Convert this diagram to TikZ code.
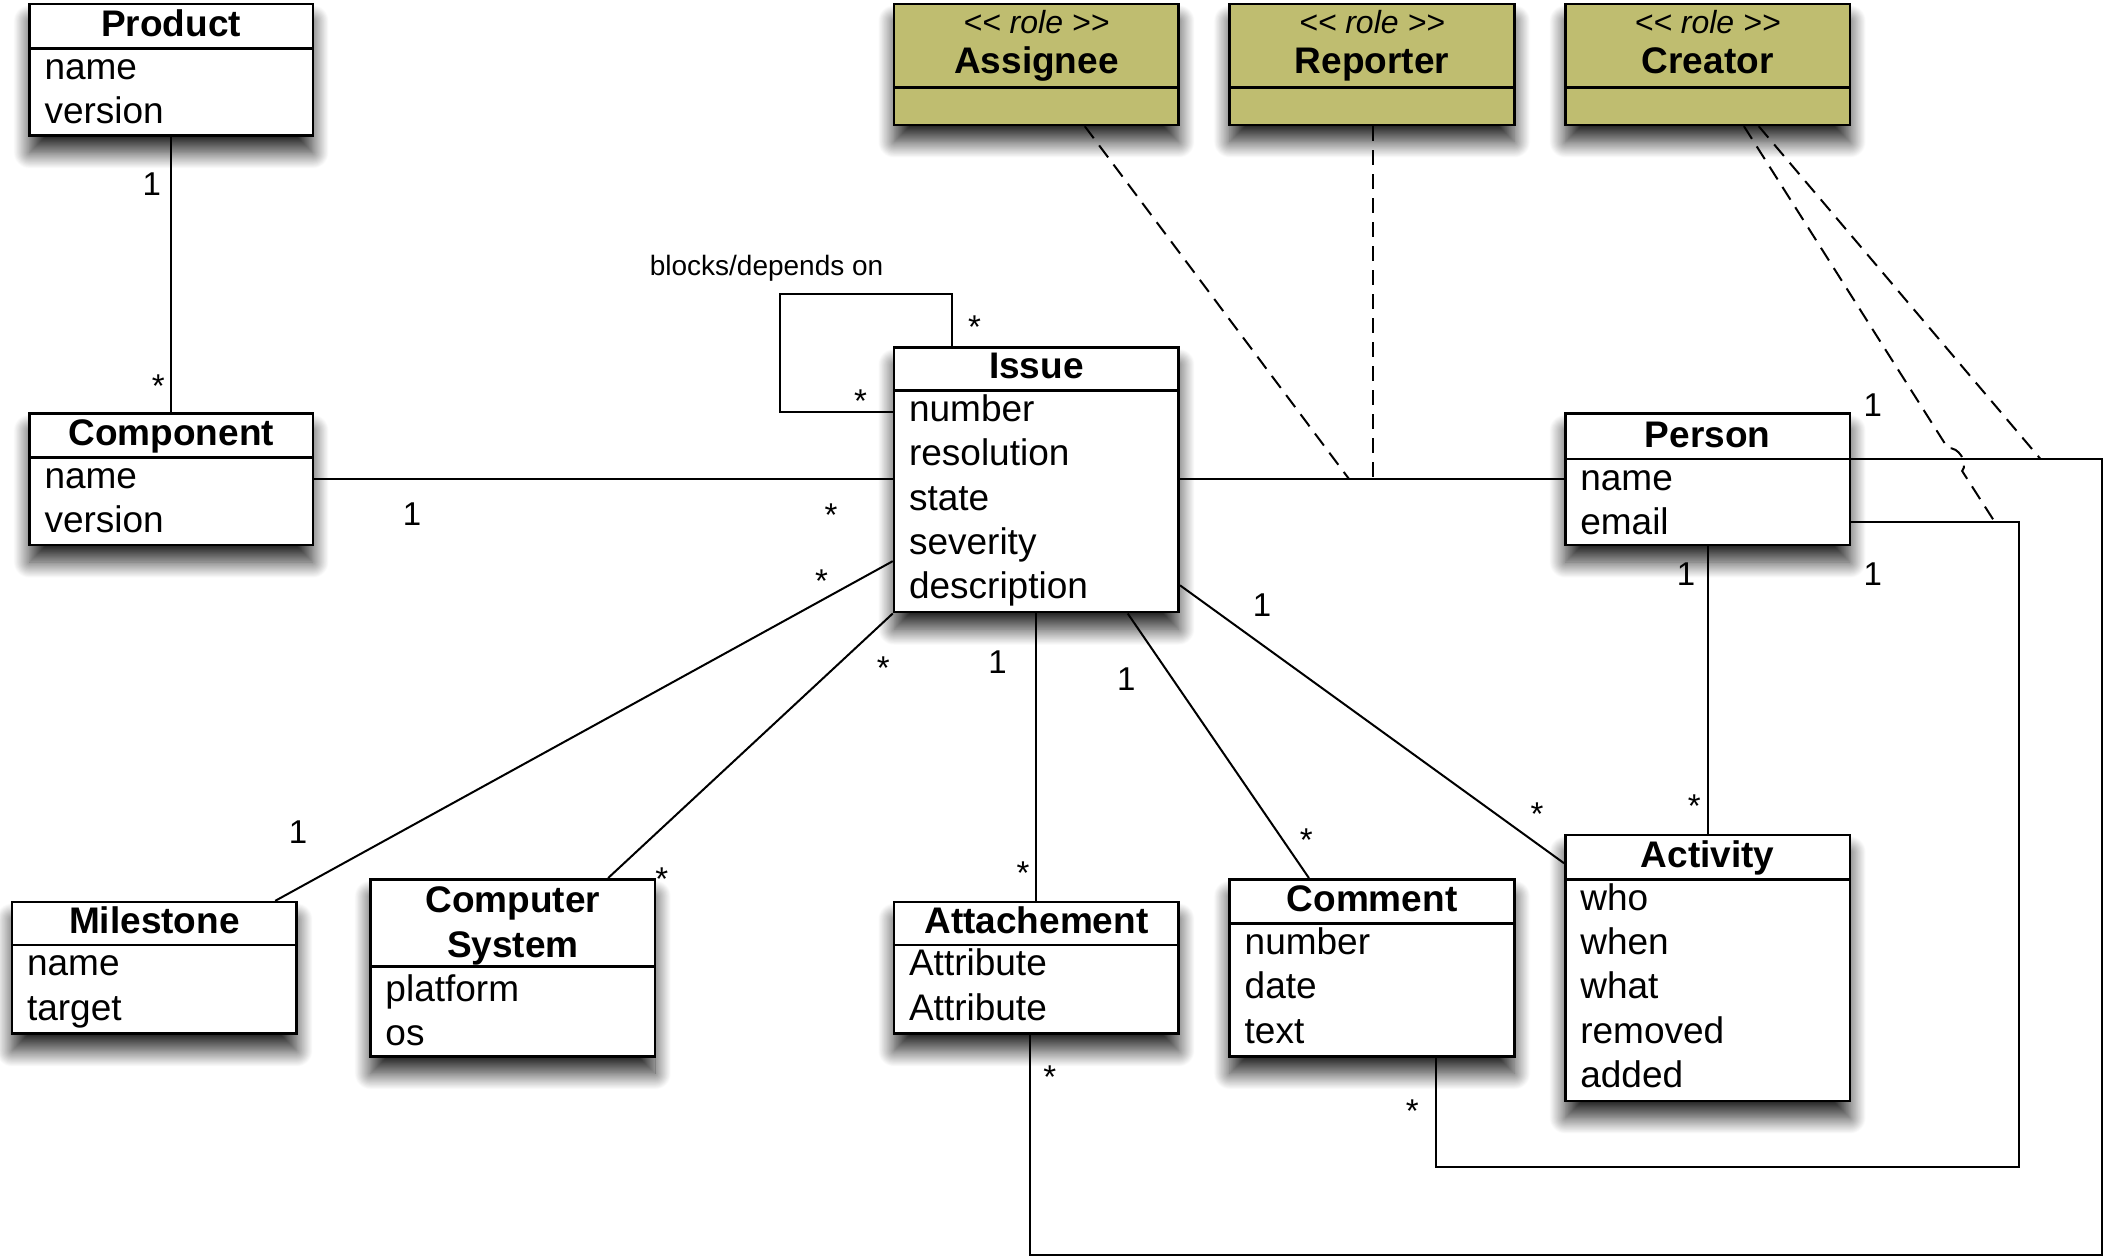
\documentclass[tikz,border=0pt]{standalone}
\usepackage{fontspec}
\setmainfont{Liberation Sans}
\usetikzlibrary{fit,shadows.blur}
\definecolor{rolefill}{RGB}{191,189,112}

% class box: id, left, top, right, bottom, divider y, title
\newcommand\umlclass[7]{%
  \node[classbox, fit={(#2,#3) (#4,#5)}] (#1) {};
  \draw[divider] (#1.west |- 0,#6) -- (#1.east |- 0,#6);
  \node[ctitle] (#1-title) at ({(#2+#4)/2},{#6-9}) {#7};
}
% role box: id, left, right, name
\newcommand\umlrole[4]{%
  \node[rolebox, fit={(#2,3) (#3,93)}] (#1) {};
  \draw[divider] (#1.west |- 0,65) -- (#1.east |- 0,65);
  \node[stereo] (#1-stereo) at ({(#2+#3)/2},25) {{<}{<} role {>}{>}};
  \node[ctitle] (#1-title) at ({(#2+#3)/2},55) {#4};
}
% attribute list: id, x, first baseline, items
\newcommand\umlattrs[4]{%
  \foreach \a [count=\i from 0] in {#4}
    \node[cattr] (#1-a\i) at (#2,{#3+33*\i}) {\a};
}

\begin{document}
\begin{tikzpicture}[x=1.3425pt,y=-1.3425pt,
  classbox/.style={draw=black, line width=2.6pt, inner sep=0pt, fill=white,
    blur shadow={shadow xshift=0pt, shadow yshift=-17pt, shadow blur radius=16pt,
      shadow opacity=85, shadow blur steps=24}},
  rolebox/.style={classbox, fill=rolefill},
  divider/.style={line width=2.6pt},
  ctitle/.style={font=\fontsize{37}{44}\selectfont\bfseries, anchor=base, inner sep=0pt},
  cattr/.style={font=\fontsize{37}{44}\selectfont, anchor=base west, inner sep=0pt},
  stereo/.style={font=\fontsize{32}{36}\selectfont\itshape, anchor=base, inner sep=0pt},
  assoc/.style={line width=2pt},
  rolelink/.style={line width=2pt, dash pattern=on 15pt off 9pt},
  one/.style={font=\fontsize{33}{40}\selectfont, inner sep=0pt},
  many/.style={font=\fontsize{33}{40}\selectfont, inner sep=0pt, anchor=base, yshift=-19pt},
  note/.style={font=\fontsize{28}{34}\selectfont, inner sep=0pt},
]
\useasboundingbox (0,0) rectangle (1568,937);

% ---- classes ----
\umlclass{product}{22}{3}{233}{101}{36}{Product}
\umlattrs{product}{33}{59}{name,version}

\umlclass{component}{22}{308}{233}{406}{341}{Component}
\umlattrs{component}{33}{364}{name,version}

\umlclass{issue}{666}{259}{878}{456}{291}{Issue}
\umlattrs{issue}{677}{314}{number,resolution,state,severity,description}

\umlclass{person}{1166}{308}{1378}{406}{342}{Person}
\umlattrs{person}{1177}{365}{name,email}

\umlclass{activity}{1166}{622}{1378}{820}{655}{Activity}
\umlattrs{activity}{1177}{678}{who,when,what,removed,added}

\umlclass{comment}{916}{655}{1128}{787}{688}{Comment}
\umlattrs{comment}{927}{711}{number,date,text}

\umlclass{attachement}{666}{672}{878}{770}{704}{Attachement}
\umlattrs{attachement}{677}{727}{Attribute,Attribute}

\umlclass{milestone}{9}{672}{221}{770}{704}{Milestone}
\umlattrs{milestone}{20}{727}{name,target}

\node[classbox, fit={(276,655) (488,787)}] (computer) {};
\draw[divider] (computer.west |- 0,720) -- (computer.east |- 0,720);
\node[ctitle] (computer-title1) at (382,680) {Computer};
\node[ctitle] (computer-title2) at (382,713) {System};
\umlattrs{computer}{287}{746}{platform,os}

% ---- roles ----
\umlrole{assignee}{666}{878}{Assignee}
\umlrole{reporter}{916}{1128}{Reporter}
\umlrole{creator}{1166}{1378}{Creator}

% ---- associations ----
\draw[assoc] (product) -- (component);
\draw[assoc] (component.east) -- (component.east -| issue.west);

\coordinate (loopcorner) at (581,219);
\draw[assoc] (issue.west |- 0,307) -| (loopcorner) -| (issue.north -| 709,0);

\draw[assoc] (issue.east |- person.west) -- (person.west);
\draw[assoc] (person) -- (activity);
\draw[assoc] (issue.west |- 0,418) -- (milestone.north -| 205,0);
\draw[assoc] (issue.south west) -- (computer.north -| 453,0);
\draw[assoc] (issue) -- (attachement);
\draw[assoc] (issue.south -| 840,0) -- (comment.north -| 975,0);
\draw[assoc] (issue.east |- 0,436) -- (activity.west |- 0,643);

\coordinate (atturn) at (1566,935);
\draw[assoc] (person.east |- 0,342) -| (atturn) -| (attachement.south -| 767,0);
\coordinate (cmturn) at (1504,869);
\draw[assoc] (person.east |- 0,389) -| (cmturn) -| (comment.south -| 1070,0);

% ---- role links ----
\coordinate (jA) at (1005,357);
\coordinate (jR) at (1023,357);
\coordinate (jC1) at (1486,389);
\coordinate (jC2) at (1520,342);
\coordinate (hopA) at (1451,334);
\coordinate (hopB) at (1461.6,350.9);
\draw[rolelink] (assignee.south -| 808,0) -- (jA);
\draw[rolelink] (reporter.south -| 1023,0) -- (jR);
\draw[rolelink] (creator.south -| 1299,0) -- (hopA) to[bend left=70] (hopB) -- (jC1);
\draw[rolelink] (creator.south -| 1310,0) -- (jC2);

% ---- multiplicities ----
\node[one]  (m-prod)   at (113,137) {1};
\node[many] (m-comp)   at (118,282) {*};
\node[one]  (m-ci1)    at (307,383) {1};
\node[many] (m-ci2)    at (619,378) {*};
\node[many] (m-loop1)  at (641,293) {*};
\node[many] (m-loop2)  at (726,238) {*};
\node[note] (loop-label) at (571,200) {blocks/depends on};
\node[many] (m-im1)    at (612,427) {*};
\node[one]  (m-im2)    at (222,620) {1};
\node[many] (m-ics1)   at (658,492) {*};
\node[many] (m-ics2)   at (493,649) {*};
\node[one]  (m-ia1)    at (743,493) {1};
\node[many] (m-ia2)    at (762,645) {*};
\node[one]  (m-ic1)    at (839,506) {1};
\node[many] (m-ic2)    at (973,620) {*};
\node[one]  (m-iact1)  at (940,451) {1};
\node[many] (m-iact2)  at (1145,601) {*};
\node[one]  (m-pact1)  at (1256,428) {1};
\node[many] (m-pact2)  at (1262,595) {*};
\node[one]  (m-patt1)  at (1395,302) {1};
\node[many] (m-patt2)  at (782,797) {*};
\node[one]  (m-pcom1)  at (1395,428) {1};
\node[many] (m-pcom2)  at (1052,822) {*};
\end{tikzpicture}
\end{document}
